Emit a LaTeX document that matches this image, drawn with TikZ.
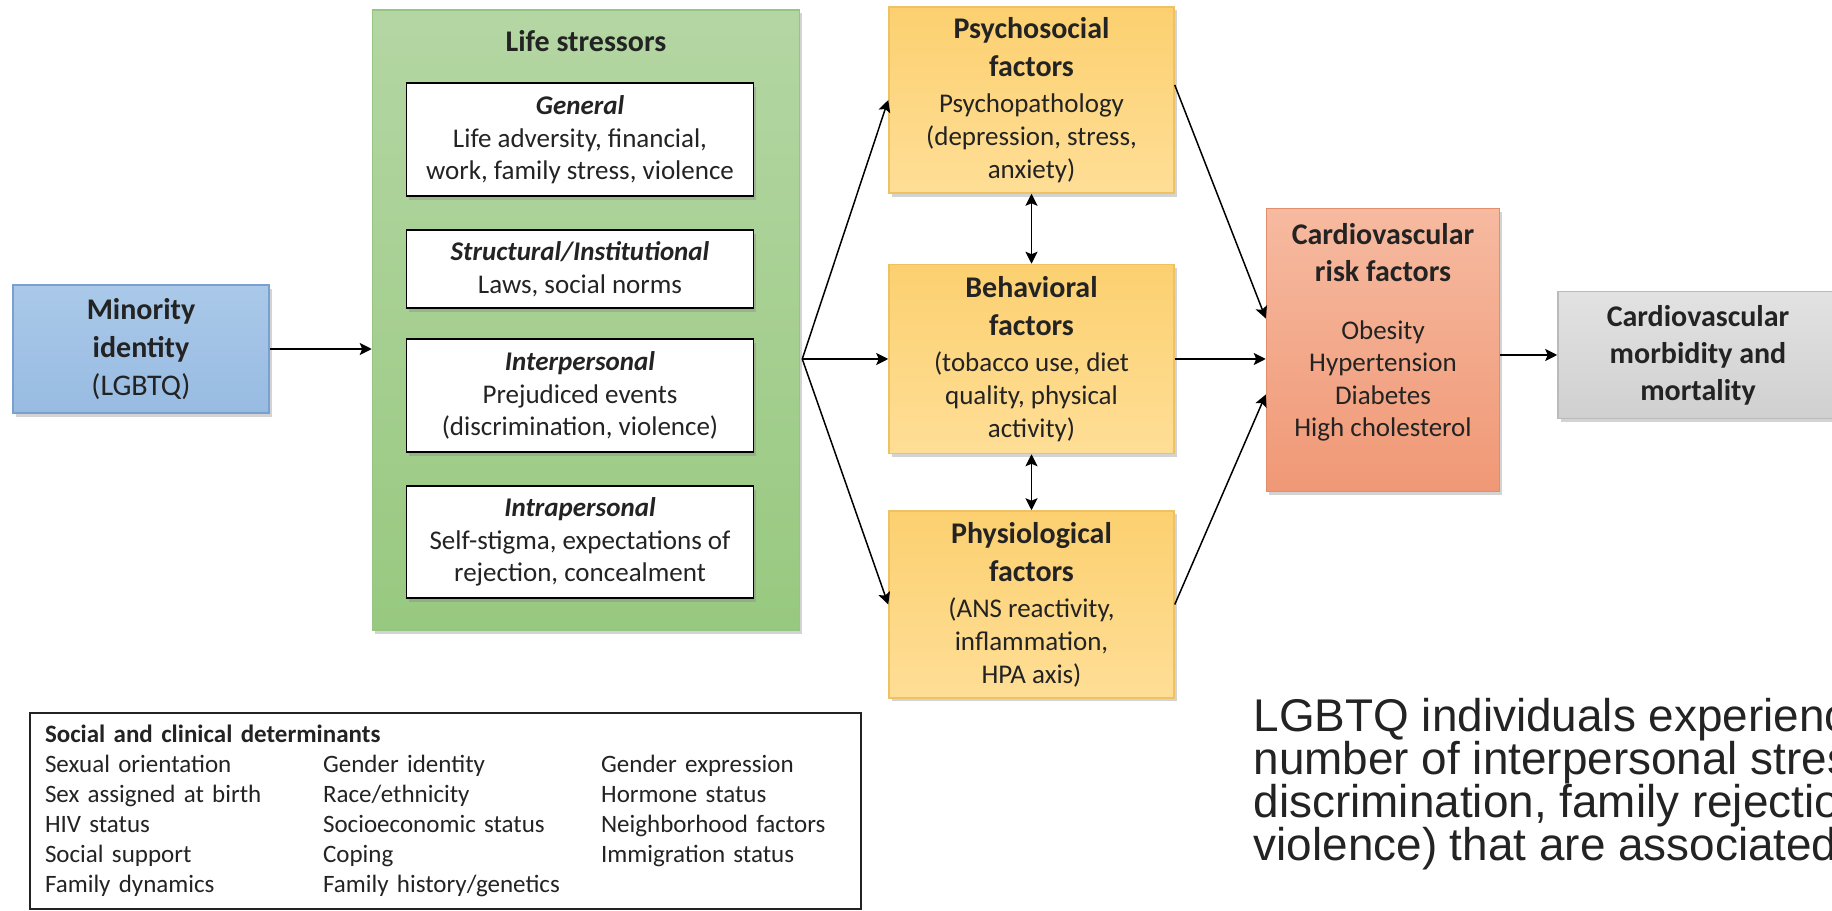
\documentclass[tikz,border=0pt]{standalone}
\usepackage{fontspec}
\setmainfont{Carlito}
\newfontfamily\parafont{Liberation Sans}
\usetikzlibrary{positioning,shadows,arrows.meta}

\definecolor{ink}{RGB}{35,35,35}
\definecolor{idtop}{RGB}{170,201,233}
\definecolor{idbot}{RGB}{152,187,226}
\definecolor{idline}{RGB}{122,160,207}
\definecolor{greentop}{RGB}{180,214,163}
\definecolor{greenbot}{RGB}{152,201,128}
\definecolor{greenline}{RGB}{150,196,130}
\definecolor{ambertop}{RGB}{252,208,112}
\definecolor{amberbot}{RGB}{254,222,150}
\definecolor{amberline}{RGB}{238,194,98}
\definecolor{risktop}{RGB}{246,186,160}
\definecolor{riskbot}{RGB}{240,152,118}
\definecolor{riskline}{RGB}{226,142,108}
\definecolor{greytop}{RGB}{226,226,226}
\definecolor{greybot}{RGB}{208,208,208}
\definecolor{greyline}{RGB}{186,186,186}

\newcommand{\boxtitle}[1]{{\fontsize{17.07}{21.6}\selectfont\bfseries #1}}
\newcommand{\subhead}[1]{{\bfseries\itshape #1}}
\newcommand{\notefont}{\parafont\fontsize{26.1}{24.3}\selectfont\lineskiplimit=-20pt\relax}

\tikzset{
  boxshadow/.style={drop shadow={shadow xshift=0.05cm,shadow yshift=-0.07cm,opacity=0.35}},
  idbox/.style={draw=idline,top color=idtop,bottom color=idbot,minimum width=5.12cm,
    minimum height=2.56cm,align=center,font=\fontsize{17.07}{21.6}\selectfont,boxshadow},
  stressbox/.style={draw=greenline,top color=greentop,bottom color=greenbot,
    minimum width=8.54cm,minimum height=12.40cm,boxshadow},
  stressor/.style={draw=black,line width=1.1pt,fill=white,minimum width=6.94cm,
    align=center,font=\fontsize{15.36}{18.5}\selectfont,boxshadow},
  factor/.style={draw=amberline,top color=ambertop,bottom color=amberbot,minimum width=5.70cm,
    align=center,font=\fontsize{15.36}{18.8}\selectfont,boxshadow},
  riskbox/.style={draw=riskline,top color=risktop,bottom color=riskbot,minimum width=4.66cm,
    minimum height=5.66cm,boxshadow},
  outcome/.style={draw=greyline,top color=greytop,bottom color=greybot,minimum width=5.60cm,
    minimum height=2.54cm,align=center,font=\fontsize{17.07}{21}\selectfont\bfseries,boxshadow},
  determinants/.style={draw=ink,line width=0.9pt,fill=white,text width=16.02cm,inner xsep=0.3cm,
    minimum height=3.92cm,align=left,font=\fontsize{14.23}{17.07}\selectfont},
  note/.style={inner sep=0pt,align=left,font=\notefont},
  every node/.append style={text=ink}
}

\begin{document}
\begin{tikzpicture}[>={Stealth[length=2.4mm,width=2.4mm,inset=0.5mm]},line width=0.85pt]
\path[use as bounding box] (0,0) rectangle (36.64,-18.22);
\clip (0,0) rectangle (36.64,-18.22);

\node[idbox](minor) at (2.82,-6.98){\textbf{Minority}\\ \textbf{identity}\\ (LGBTQ)};
\node[stressbox](stress)[right=2.04cm of minor,yshift=0.58cm]{};
\node[font=\fontsize{17.07}{21.6}\selectfont\bfseries](stitle) at ([yshift=-0.64cm]stress.north){Life stressors};
\node[stressor,minimum height=2.26cm](general)[below=1.46cm of stress.north,xshift=-0.12cm]{\subhead{General}\\ Life adversity, financial,\\ work, family stress, violence};
\node[stressor,minimum height=1.56cm](struct)[below=0.64cm of general]{\subhead{Structural/Institutional}\\ Laws, social norms};
\node[stressor,minimum height=2.26cm](inter)[below=0.58cm of struct]{\subhead{Interpersonal}\\ Prejudiced events\\ (discrimination, violence)};
\node[stressor,minimum height=2.24cm](intra)[below=0.64cm of inter]{\subhead{Intrapersonal}\\ Self-stigma, expectations of\\ rejection, concealment};

\node[factor,minimum height=3.72cm](psy)[right=1.76cm of stress.north east,anchor=north west,yshift=0.06cm]{\boxtitle{Psychosocial}\\[2.8pt] \boxtitle{factors}\\[1.7pt] Psychopathology\\ (depression, stress,\\ anxiety)};
\node[factor,minimum height=3.78cm](beh)[below=1.40cm of psy]{\boxtitle{Behavioral}\\[2.8pt] \boxtitle{factors}\\[1.7pt] (tobacco use, diet\\ quality, physical\\ activity)};
\node[factor,minimum height=3.74cm](phy)[below=1.12cm of beh]{\boxtitle{Physiological}\\[2.8pt] \boxtitle{factors}\\[1.7pt] (ANS reactivity,\\ inflammation,\\ HPA axis)};

\node[riskbox,label={[name=risklbl,align=center,font=\fontsize{15.36}{18.5}\selectfont,yshift=0.35cm]center:{\boxtitle{Cardiovascular}\\[2.5pt] \boxtitle{risk factors}\\[14.5pt] Obesity\\ Hypertension\\ Diabetes\\ High cholesterol}}](risk)[right=1.82cm of beh,yshift=0.18cm]{};
\node[outcome](out)[right=1.14cm of risk,yshift=-0.10cm]{Cardiovascular\\ morbidity and\\ mortality};

\node[determinants](social) at (8.91,-16.22){%
\begin{tabular}{@{}p{5.14cm}p{5.14cm}l@{}}
\multicolumn{3}{@{}l}{\textbf{Social and clinical determinants}}\\
Sexual orientation & Gender identity & Gender expression\\
Sex assigned at birth & Race/ethnicity & Hormone status\\
HIV status & Socioeconomic status & Neighborhood factors\\
Social support & Coping & Immigration status\\
Family dynamics & Family history/genetics & \\
\end{tabular}};

\node[note,anchor=north west](para) at (25.06,-13.96){LGBTQ individuals experience\\ number of interpersonal stressors\\ discrimination, family rejection,\\ violence) that are associated};

\coordinate (fan) at ([xshift=0.04cm]stress.east |- beh.west);

\path[->,line width=1.1pt](minor.east) edge (minor.east -| stress.west)
	 (fan) edge (beh.west)
	 (beh.east) edge (beh.east -| risk.west)
	 (risk.east |- out.west) edge (out.west);
\path[->](fan) edge (psy.west)
	 (fan) edge (phy.west)
	 ([yshift=0.3cm]psy.east) edge ([yshift=0.63cm]risk.west)
	 (phy.east) edge ([yshift=-0.89cm]risk.west);
\path[<->,line width=1pt](psy.south) edge (beh.north)
	 (beh.south) edge (phy.north);

\end{tikzpicture}
\end{document}
